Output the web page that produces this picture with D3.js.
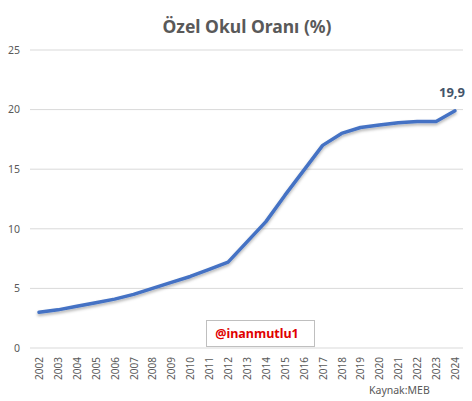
<!DOCTYPE html>
<html><head><meta charset="utf-8">
<script src="https://cdn.jsdelivr.net/npm/d3@7"></script>
<style>body{margin:0;background:#fff}svg{display:block}</style>
</head><body>
<script>
const years = ["2002","2003","2004","2005","2006","2007","2008","2009","2010","2011","2012","2013","2014","2015","2016","2017","2018","2019","2020","2021","2022","2023","2024"];
const values = [3.0,3.2,3.5,3.8,4.1,4.5,5.0,5.5,6.0,6.6,7.2,8.9,10.6,12.8,14.9,17.0,18.0,18.5,18.7,18.9,19.0,19.0,19.9];
const yTicks = [0,5,10,15,20,25];
const title = "Özel Okul Oranı (%)";

const W = 472, H = 401;
const svg = d3.select("body").append("svg").attr("width", W).attr("height", H);
const font = "'Noto Sans', 'Open Sans', 'DejaVu Sans', sans-serif";

const defs = svg.append("defs");
const f = defs.append("filter").attr("id","sh").attr("x","-10%").attr("y","-10%").attr("width","120%").attr("height","130%");
f.append("feDropShadow").attr("dx",0).attr("dy",2).attr("stdDeviation",1.5).attr("flood-color","#000").attr("flood-opacity",0.3);

const x = d3.scalePoint().domain(years).range([39, 455]);
const y = d3.scaleLinear().domain([0,25]).range([348, 50]);

// gridlines
svg.append("g").selectAll("line").data(yTicks).join("line")
  .attr("x1",30).attr("x2",463).attr("y1",d=>y(d)).attr("y2",d=>y(d))
  .attr("stroke","#d9d9d9").attr("stroke-width",1);

// y axis labels
const yAxis = d3.axisLeft(y).tickValues(yTicks).tickSize(0).tickPadding(0);
const gy = svg.append("g").attr("transform","translate(20,0)").call(yAxis);
gy.select(".domain").remove();
gy.selectAll("text").attr("font-family",font).attr("font-size",10.5).attr("fill","#595959").attr("text-anchor","end");

// x axis labels
const xAxis = d3.axisBottom(x).tickSize(0).tickPadding(0);
const gx = svg.append("g").attr("transform","translate(0,357)").call(xAxis);
gx.select(".domain").remove();
gx.selectAll("text").attr("font-family",font).attr("font-size",10).attr("fill","#595959")
  .attr("text-anchor","end").attr("dy","0.35em").attr("transform","rotate(-90)").attr("x",0).attr("y",0);

// line
const line = d3.line().x((d,i)=>x(years[i])).y(d=>y(d));
svg.append("path").datum(values).attr("d",line).attr("fill","none")
  .attr("stroke","#4472C4").attr("stroke-width",3.5).attr("stroke-linejoin","round").attr("stroke-linecap","round")
  .attr("filter","url(#sh)");

// data label
const last = values.length-1;
svg.append("text").attr("x",x(years[last])-3).attr("y",y(values[last])-14)
  .attr("text-anchor","middle").attr("font-family",font).attr("font-size",13).attr("font-weight","bold")
  .attr("fill","#44546A").text(String(values[last]).replace(".",","));

// title
svg.append("text").attr("x",247).attr("y",33).attr("text-anchor","middle")
  .attr("font-family",font).attr("font-size",17.5).attr("font-weight","bold").attr("fill","#595959").text(title);

// watermark
svg.append("rect").attr("x",206.5).attr("y",320.5).attr("width",108).attr("height",26)
  .attr("fill","#fff").attr("stroke","#bfbfbf").attr("stroke-width",1);
svg.append("text").attr("x",257).attr("y",338).attr("text-anchor","middle")
  .attr("font-family",font).attr("font-size",12.5).attr("font-weight","bold").attr("fill","#E00000").text("@inanmutlu1");

// source
svg.append("text").attr("x",369).attr("y",394).attr("font-family",font).attr("font-size",10.5)
  .attr("fill","#595959").text("Kaynak:MEB");
</script>
</body></html>
